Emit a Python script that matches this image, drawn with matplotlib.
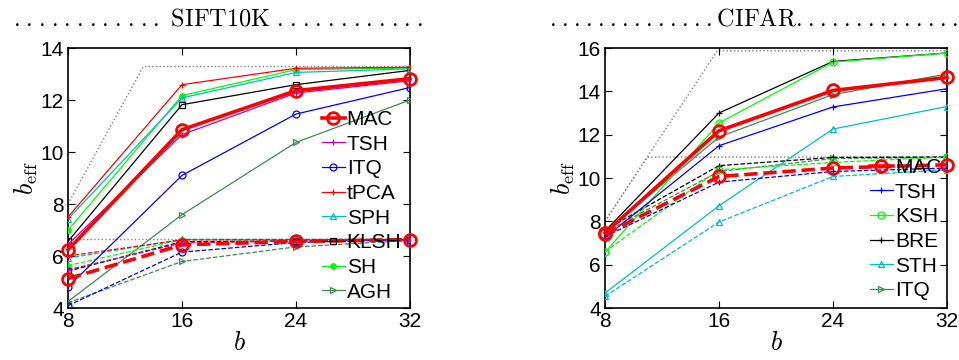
import matplotlib
matplotlib.use('Agg')
import matplotlib.pyplot as plt
import numpy as np

plt.rcParams['font.family'] = ['Liberation Sans', 'DejaVu Sans']
plt.rcParams['mathtext.fontset'] = 'cm'

b_vals = [8, 16, 24, 32]

# SIFT10K, solid = first curve, dashed = second curve
sift_names = ['MAC', 'TSH', 'ITQ', 'tPCA', 'SPH', 'KLSH', 'SH', 'AGH']
sift_solid = {
    'MAC':  [6.24, 10.86, 12.36, 12.82],
    'TSH':  [6.45, 10.67, 12.27, 12.74],
    'ITQ':  [4.81, 9.10, 11.46, 12.48],
    'tPCA': [7.50, 12.59, 13.22, 13.26],
    'SPH':  [7.42, 12.08, 13.06, 13.20],
    'KLSH': [6.56, 11.82, 12.59, 13.14],
    'SH':   [6.99, 12.17, 13.17, 13.23],
    'AGH':  [4.25, 7.59, 10.37, 12.00],
}
sift_dashed = {
    'MAC':  [5.13, 6.43, 6.56, 6.63],
    'TSH':  [5.47, 6.50, 6.58, 6.63],
    'ITQ':  [4.09, 6.15, 6.52, 6.63],
    'tPCA': [6.00, 6.62, 6.63, 6.64],
    'SPH':  [5.92, 6.64, 6.64, 6.64],
    'KLSH': [5.42, 6.55, 6.58, 6.63],
    'SH':   [5.63, 6.63, 6.63, 6.64],
    'AGH':  [4.20, 5.79, 6.35, 6.60],
}
sift_bounds = [np.log2(10000), np.log2(100)]

cifar_names = ['MAC', 'TSH', 'KSH', 'BRE', 'STH', 'ITQ']
cifar_solid = {
    'MAC': [7.46, 12.18, 14.04, 14.64],
    'TSH': [7.25, 11.49, 13.28, 14.12],
    'KSH': [6.57, 12.54, 15.35, 15.77],
    'BRE': [7.55, 13.00, 15.38, 15.77],
    'STH': [4.69, 8.72, 12.26, 13.30],
    'ITQ': [7.50, 11.89, 13.85, 14.80],
}
cifar_dashed = {
    'MAC': [7.40, 10.07, 10.46, 10.61],
    'TSH': [7.30, 9.81, 10.30, 10.46],
    'KSH': [6.60, 10.38, 10.72, 10.97],
    'BRE': [7.60, 10.57, 10.95, 10.97],
    'STH': [4.54, 7.97, 10.07, 10.38],
    'ITQ': [7.50, 10.30, 10.90, 10.95],
}
cifar_bounds = [np.log2(60000), np.log2(2000)]

dkgreen = '#3c8c50'
sift_style = {
    'MAC':  ('r', 'o'),
    'TSH':  ('m', '+'),
    'ITQ':  ('b', 'o'),
    'tPCA': ('r', '+'),
    'SPH':  ('c', '^'),
    'KLSH': ('k', 's'),
    'SH':   ('#00ff00', '.'),
    'AGH':  (dkgreen, '>'),
}
cifar_style = {
    'MAC': ('r', 'o'),
    'TSH': ('b', '+'),
    'KSH': ('#00ff00', 'o'),
    'BRE': ('k', '+'),
    'STH': ('c', '^'),
    'ITQ': (dkgreen, '>'),
}


def draw_bound(ax, cap):
    xs = sorted(set([8, cap, 32]))
    xs = [x for x in xs if 8 <= x <= 32]
    ys = np.minimum(xs, cap)
    ax.plot(xs, ys, ':', color='0.5', lw=1, zorder=1)


def draw_panel(ax, names, solid, dashed, styles, bounds, ymax):
    for cap in bounds:
        draw_bound(ax, cap)
    for name in names[::-1]:
        color, mk = styles[name]
        if name == 'MAC':
            lw, ms, mew = 2.6, 8.5, 2.0
        else:
            lw, ms, mew = 0.9, 5, 0.9
        if mk == '.':
            ms = 8
        for ys, ls, lab in [(dashed[name], '--', '_nolegend_'), (solid[name], '-', name)]:
            ax.plot(b_vals, ys, ls, color=color, lw=lw, marker=mk, ms=ms,
                    mew=mew, mfc='none' if mk != '.' else color,
                    label=lab, clip_on=(name != 'MAC'),
                    zorder=5 if name == 'MAC' else 3)
    ax.set_xlim(8, 32)
    ax.set_ylim(4, ymax)
    ax.set_xticks(b_vals)
    ax.set_yticks(range(4, ymax + 1, 2))
    ax.tick_params(direction='in', top=True, right=True, length=5,
                   labelsize=15, pad=3)
    for s in ax.spines.values():
        s.set_linewidth(1.2)
    ax.set_xlabel(r'$b$', fontsize=19, labelpad=0)
    ax.set_ylabel(r'$b_{\mathrm{eff}}$', fontsize=19, labelpad=0)


def add_legend(ax, names, anchor):
    h, l = ax.get_legend_handles_labels()
    order = [l.index(n) for n in names]
    ax.legend([h[i] for i in order], [l[i] for i in order], loc='lower right',
              bbox_to_anchor=anchor, frameon=False, fontsize=15,
              handlelength=1.1, handletextpad=0.1, labelspacing=0.27,
              borderaxespad=0, borderpad=0)


def dots(n, sp=0.08):
    return (r'\hspace{%g}' % sp).join(['.'] * n)


def main():
    fig = plt.figure(figsize=(9.59, 3.6), dpi=100)
    ax1 = fig.add_axes([68 / 959, 1 - 308 / 360, 342 / 959, 260 / 360])
    ax2 = fig.add_axes([605 / 959, 1 - 308 / 360, 342 / 959, 260 / 360])

    draw_panel(ax1, sift_names, sift_solid, sift_dashed, sift_style, sift_bounds, 14)
    draw_panel(ax2, cifar_names, cifar_solid, cifar_dashed, cifar_style, cifar_bounds, 16)
    add_legend(ax1, sift_names, (0.975, 0.025))
    add_legend(ax2, cifar_names, (0.983, 0.03))

    t1 = r'$' + dots(12) + r'\ \mathrm{SIFT10K}\ ' + dots(12) + r'$'
    t2 = r'$' + dots(14, 0.05) + r'\mathrm{CIFAR}' + dots(14, 0.05) + r'$'
    fig.text(218 / 959, 1 - 25 / 360, t1, ha='center', va='baseline', fontsize=17.5)
    fig.text(754 / 959, 1 - 25 / 360, t2, ha='center', va='baseline', fontsize=17.5)

    fig.savefig('out.png', dpi=100)


main()
